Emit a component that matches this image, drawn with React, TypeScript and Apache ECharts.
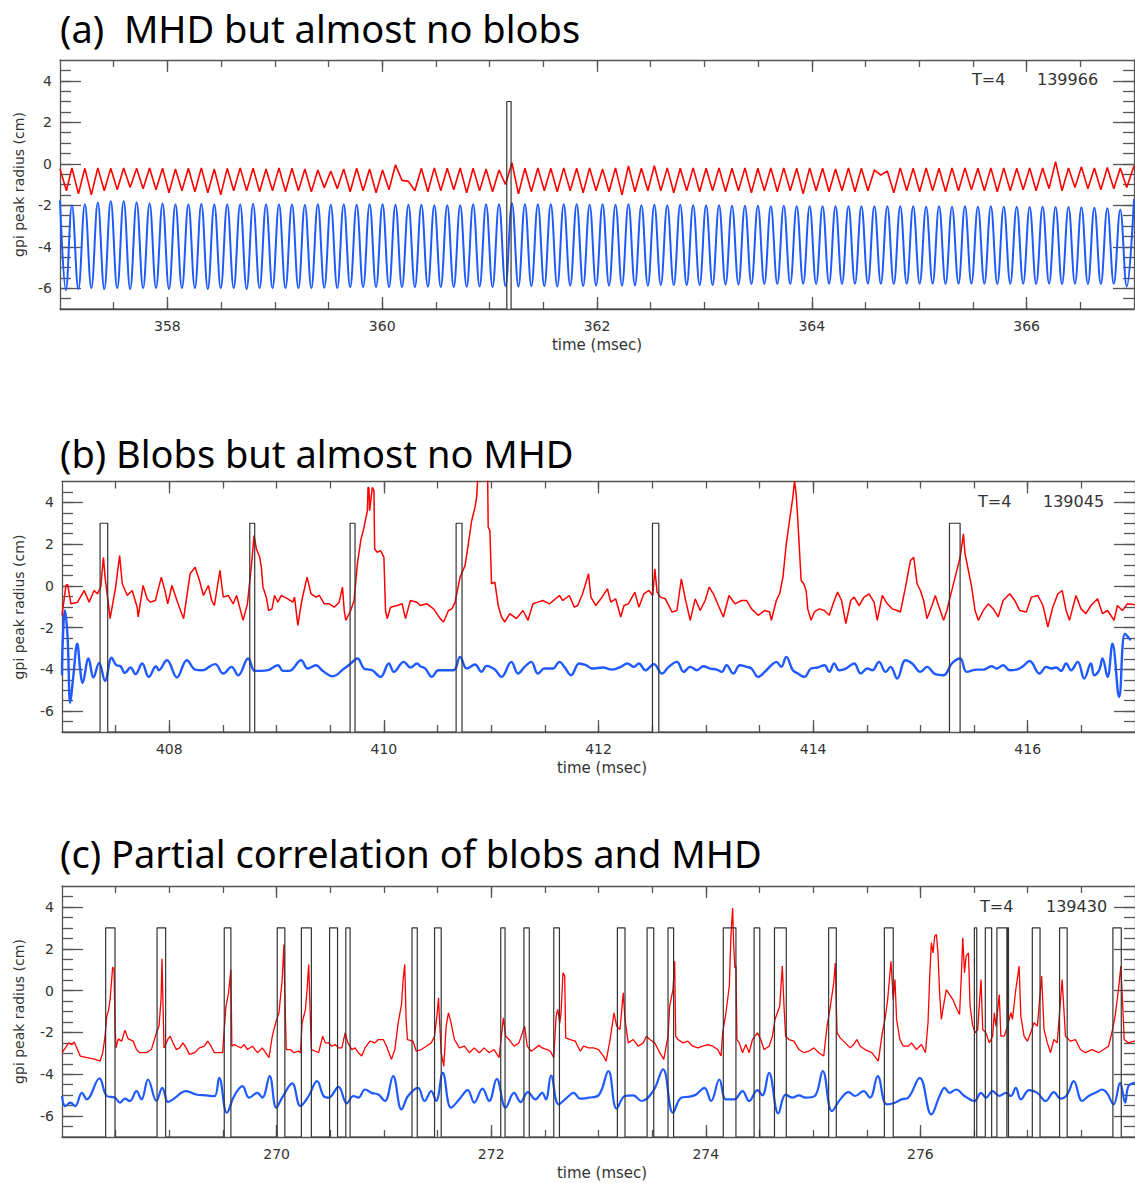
import React, { useEffect, useRef } from "react";
import * as echarts from "echarts";

type Pt = [number, number];

// ---------- shared scales ----------
const Y_RANGE: Pt = [-7, 5];
const Y_MAJOR = [-6, -4, -2, 0, 2, 4];
const BLOB_ON = 3;
const BLOB_OFF = -7;

// ---------- (a) shot 139966 : MHD mode, almost no blobs ----------
const A_RANGE: Pt = [357, 367];
const A_MAJOR = [358, 360, 362, 364, 366];
// peak / trough values sampled at every half period of the mode
const A_T0 = 357.111;
const A_DT = 0.060254;
const aBlueLead: Pt[] = [[357.0, -1.76], [357.055, -6.1]];
const aBlue = [
  -2.0, -6.05, -1.95, -6.0, -1.87, -6.05, -1.8, -6.0, -1.8, -6.05,
  -1.85, -6.0, -1.9, -6.0, -1.92, -6.05, -1.95, -6.0, -1.95, -6.0,
  -1.93, -6.05, -1.95, -6.0, -1.95, -6.0, -1.95, -6.05, -1.93, -6.0,
  -1.95, -6.0, -1.95, -6.0, -1.95, -6.0, -1.97, -6.0, -1.95, -5.98,
  -1.97, -6.0, -1.95, -5.95, -1.97, -5.95, -1.95, -5.95, -1.95, -5.95,
  -1.97, -5.95, -1.97, -5.95, -1.97, -5.93, -2.0, -5.95, -2.0, -5.95,
  -2.0, -5.93, -1.95, -5.92, -1.95, -5.95, -1.95, -5.9, -1.9, -5.92,
  -1.95, -5.9, -1.95, -5.9, -1.95, -5.92, -1.95, -5.88, -1.95, -5.9,
  -1.97, -5.88, -1.95, -5.88, -1.97, -5.88, -1.95, -5.86, -2.0, -5.88,
  -1.97, -5.85, -2.0, -5.85, -1.98, -5.85, -2.0, -5.85, -2.0, -5.85,
  -2.0, -5.82, -2.02, -5.82, -2.02, -5.8, -2.03, -5.8, -2.05, -5.8,
  -2.03, -5.8, -2.05, -5.78, -2.05, -5.8, -2.05, -5.78, -2.05, -5.8,
  -2.05, -5.78, -2.05, -5.78, -2.05, -5.78, -2.05, -5.8, -2.05, -5.78,
  -2.05, -5.78, -2.07, -5.78, -2.05, -5.8, -2.07, -5.78, -2.05, -5.78,
  -2.07, -5.78, -2.05, -5.8, -2.07, -5.78, -2.07, -5.78, -2.08, -5.8,
  -2.07, -5.78, -2.08, -5.8, -2.08, -5.78, -2.1, -5.8, -2.12, -5.8,
  -2.15, -5.78, -2.22, -5.92,
];
const aBlueTrail: Pt[] = [[367.0, -1.7]];
const aRedLead: Pt[] = [[357.0, -0.25], [357.06, -1.3]];
const aRed = [
  -0.2, -1.45, -0.22, -1.5, -0.2, -1.3, -0.22, -1.25, -0.2, -1.15,
  -0.22, -1.2, -0.2, -1.25, -0.22, -1.4, -0.25, -1.3, -0.22, -1.35,
  -0.2, -1.4, -0.25, -1.5, -0.22, -1.3, -0.2, -1.3, -0.22, -1.35,
  -0.25, -1.3, -0.2, -1.35, -0.22, -1.3, -0.25, -1.35, -0.3, -1.15,
  -0.35, -1.2, -0.25, -1.35, -0.22, -1.3, -0.25, -1.4, -0.3, -1.25,
  -0.05, -0.8, -0.85, -1.3, -0.22, -1.35, -0.2, -1.3, -0.22, -1.25,
  -0.2, -1.4, -0.22, -1.3, -0.25, -1.35, -0.3, -1.0, 0.05, -1.45,
  -0.22, -1.35, -0.2, -1.3, -0.22, -1.35, -0.2, -1.3, -0.22, -1.4,
  -0.2, -1.3, -0.25, -1.35, -0.2, -1.5, -0.1, -1.35, -0.22, -1.3,
  -0.1, -1.3, -0.2, -1.4, -0.22, -1.3, -0.2, -1.35, -0.22, -1.3,
  -0.2, -1.35, -0.22, -1.3, -0.2, -1.4, -0.22, -1.3, -0.2, -1.35,
  -0.2, -1.3, -0.22, -1.45, -0.2, -1.3, -0.22, -1.35, -0.25, -1.3,
  -0.2, -1.35, -0.22, -1.3, -0.3, -0.55, -0.35, -1.4, -0.2, -1.3,
  -0.22, -1.35, -0.2, -1.3, -0.22, -1.35, -0.2, -1.3, -0.2, -1.25,
  -0.22, -1.3, -0.2, -1.35, -0.2, -1.3, -0.22, -1.25, -0.2, -1.3,
  -0.2, -1.2, 0.1, -1.3, -0.2, -1.15, -0.15, -1.2, -0.2, -1.25,
  -0.18, -1.2, -0.2, -1.15,
];
const aRedTrail: Pt[] = [[367.0, -0.1]];
const aBlobStart = [361.16];
const aBlobEnd = [361.2];

// ---------- (b) shot 139045 : blobs, almost no MHD ----------
const B_RANGE: Pt = [407, 417];
const B_MAJOR = [408, 410, 412, 414, 416];
const bRed: Pt[] = [
  [407.0, -1.41], [407.037, 0.02], [407.052, 0.07], [407.083, -0.86], [407.145, -0.78], [407.207, -0.22],
  [407.253, -0.78], [407.299, -0.22], [407.33, -0.38], [407.361, -0.06], [407.386, 1.37], [407.401, 0.42],
  [407.438, -1.1], [407.448, -1.57], [407.5, -0.06], [407.537, 1.45], [407.562, 0.1], [407.608, -0.46],
  [407.654, -0.22], [407.701, -1.02], [407.71, -1.49], [407.756, 0.02], [407.793, -0.62], [407.824, -0.78],
  [407.87, -0.7], [407.926, 0.42], [407.963, -0.3], [407.985, -0.86], [408.025, 0.02], [408.071, -0.7],
  [408.133, -1.57], [408.194, 0.58], [408.241, 0.89], [408.281, 0.26], [408.318, -0.46], [408.364, 0.02],
  [408.395, -0.7], [408.42, -0.94], [408.472, 0.74], [408.503, -0.54], [408.549, -0.46], [408.596, -0.86],
  [408.627, -0.46], [408.688, -1.65], [408.728, -0.86], [408.765, 0.97], [408.79, 2.41], [408.812, 1.77],
  [408.843, 1.37], [408.858, 0.89], [408.873, -0.06], [408.904, -0.54], [408.926, -1.18], [408.957, -1.1],
  [408.981, -0.46], [409.012, -0.78], [409.043, -0.46], [409.074, -0.54], [409.105, -0.62], [409.151, -0.78],
  [409.167, -0.54], [409.198, -1.89], [409.235, -0.7], [409.284, 0.42], [409.321, -0.38], [409.367, -0.54],
  [409.398, -0.46], [409.444, -0.86], [409.491, -0.86], [409.537, -1.02], [409.583, -0.78], [409.614, -0.06],
  [409.63, -1.18], [409.645, -1.65], [409.691, -1.18], [409.722, -0.7], [409.753, 1.05], [409.784, 2.17],
  [409.815, 2.81], [409.846, 3.6], [409.852, 4.72], [409.861, 4.68], [409.867, 3.6], [409.892, 4.72],
  [409.907, 4.56], [409.914, 1.77], [409.938, 1.61], [409.969, 1.69], [410.0, 1.37], [410.015, -1.18],
  [410.031, -1.57], [410.062, -1.02], [410.123, -0.94], [410.17, -0.86], [410.201, -1.57], [410.247, -0.7],
  [410.309, -0.78], [410.339, -0.94], [410.401, -0.86], [410.463, -1.1], [410.525, -1.57], [410.556, -1.73],
  [410.602, -1.18], [410.633, -1.1], [410.664, -0.78], [410.71, 0.42], [410.756, 0.97], [410.787, 2.01],
  [410.818, 3.12], [410.849, 3.76], [410.864, 4.24], [410.88, 5.6], [410.966, 5.6], [410.972, 2.81],
  [410.988, 2.65], [411.003, 0.1], [411.034, 0.18], [411.065, -0.94], [411.096, -1.49], [411.127, -1.73],
  [411.173, -1.33], [411.235, -1.57], [411.296, -1.18], [411.343, -1.65], [411.389, -0.86], [411.435, -0.78],
  [411.481, -0.7], [411.543, -0.86], [411.636, -0.46], [411.667, -0.7], [411.728, -0.46], [411.775, -1.02],
  [411.806, -0.94], [411.852, -0.38], [411.907, 0.58], [411.929, -0.54], [411.975, -0.94], [412.022, -0.62],
  [412.083, -0.14], [412.114, -0.78], [412.16, -0.62], [412.207, -1.49], [412.238, -0.94], [412.278, -0.86],
  [412.339, -0.3], [412.376, -1.02], [412.423, -0.38], [412.469, -0.22], [412.506, -0.46], [412.525, 0.82],
  [412.546, -0.3], [412.577, -0.54], [412.623, -0.62], [412.685, -1.25], [412.731, -1.18], [412.772, 0.34],
  [412.809, -0.62], [412.855, -1.65], [412.901, -0.62], [412.948, -1.18], [412.994, -0.7], [413.031, -0.06],
  [413.071, -0.38], [413.117, -0.94], [413.164, -1.49], [413.216, -0.46], [413.272, -0.86], [413.333, -0.7],
  [413.38, -0.7], [413.426, -1.1], [413.488, -1.41], [413.549, -1.18], [413.595, -1.25], [413.611, -1.65],
  [413.657, -0.7], [413.688, -0.38], [413.719, 0.42], [413.75, 2.01], [413.78, 3.12], [413.811, 4.24],
  [413.827, 5.03], [413.842, 4.4], [413.858, 3.12], [413.873, 1.69], [413.889, 0.26], [413.913, 0.1],
  [413.935, -0.22], [413.95, -1.1], [413.981, -1.65], [414.012, -1.25], [414.058, -1.1], [414.105, -1.18],
  [414.151, -1.41], [414.197, -0.7], [414.228, -0.3], [414.265, -0.7], [414.305, -1.81], [414.351, -0.7],
  [414.382, -0.54], [414.429, -0.94], [414.475, -0.54], [414.521, -0.38], [414.568, -0.78], [414.598, -1.65],
  [414.645, -0.46], [414.691, -0.86], [414.737, -1.1], [414.784, -1.18], [414.814, -1.25], [414.861, -0.06],
  [414.907, 1.21], [414.938, 1.37], [414.969, 0.1], [415.0, -0.22], [415.03, -0.7], [415.061, -1.57],
  [415.108, -0.94], [415.139, -0.46], [415.169, -0.94], [415.216, -1.65], [415.247, -1.18], [415.277, -0.54],
  [415.324, 0.42], [415.37, 1.37], [415.401, 2.49], [415.416, 1.53], [415.447, 0.74], [415.478, -0.06],
  [415.509, -1.18], [415.54, -1.65], [415.586, -1.18], [415.632, -0.86], [415.679, -1.1], [415.725, -1.49],
  [415.771, -0.7], [415.833, -0.38], [415.879, -0.7], [415.926, -1.18], [415.987, -1.25], [416.034, -0.54],
  [416.095, -0.46], [416.142, -0.94], [416.188, -1.97], [416.234, -1.02], [416.281, -0.38], [416.321, -0.22],
  [416.358, -1.18], [416.389, -1.65], [416.45, -0.46], [416.497, -1.1], [416.543, -1.33], [416.589, -0.94],
  [416.651, -0.62], [416.697, -1.33], [416.744, -1.18], [416.805, -1.65], [416.836, -0.94], [416.882, -1.18],
  [416.929, -0.86], [417.0, -0.9],
];
const bBlue: Pt[] = [
  [407.0, -4.28], [407.006, -2.77], [407.028, -1.18], [407.052, -2.45], [407.077, -5.6], [407.105, -4.36],
  [407.142, -2.77], [407.17, -4.04], [407.191, -4.65], [407.247, -3.48], [407.293, -4.39], [407.346, -3.69],
  [407.401, -4.55], [407.463, -3.44], [407.506, -3.8], [407.546, -3.85], [407.586, -4.17], [407.639, -3.91],
  [407.685, -4.23], [407.747, -3.72], [407.809, -4.36], [407.877, -3.85], [407.901, -4.04], [407.978, -3.56],
  [408.071, -4.39], [408.164, -3.56], [408.241, -4.01], [408.302, -4.04], [408.333, -4.01], [408.426, -3.75],
  [408.503, -4.2], [408.58, -3.88], [408.642, -4.28], [408.735, -3.48], [408.796, -4.07], [408.858, -4.07],
  [408.92, -4.04], [409.012, -3.8], [409.059, -4.07], [409.12, -4.07], [409.228, -3.56], [409.29, -3.96],
  [409.367, -3.8], [409.429, -4.07], [409.522, -4.33], [409.63, -3.96], [409.691, -3.72], [409.753, -3.48],
  [409.815, -3.96], [409.861, -4.01], [409.892, -4.04], [409.969, -4.36], [410.046, -3.72], [410.093, -4.12],
  [410.185, -3.64], [410.247, -3.91], [410.309, -3.72], [410.339, -3.85], [410.386, -3.96], [410.447, -4.36],
  [410.509, -4.04], [410.648, -4.04], [410.71, -3.4], [410.772, -3.96], [410.849, -3.77], [410.91, -4.12],
  [410.957, -3.83], [411.034, -4.01], [411.096, -4.36], [411.188, -3.64], [411.25, -4.2], [411.312, -3.88],
  [411.373, -3.64], [411.435, -4.2], [411.497, -3.96], [411.574, -3.96], [411.636, -3.64], [411.682, -3.88],
  [411.744, -4.28], [411.821, -3.72], [411.883, -3.8], [411.944, -3.96], [412.037, -3.91], [412.13, -4.01],
  [412.207, -3.88], [412.269, -3.72], [412.33, -3.88], [412.376, -3.72], [412.438, -4.04], [412.515, -3.75],
  [412.593, -4.2], [412.654, -3.88], [412.731, -3.64], [412.793, -4.12], [412.855, -3.88], [412.917, -4.04],
  [412.978, -3.85], [413.04, -3.96], [413.102, -4.01], [413.148, -4.12], [413.194, -3.8], [413.256, -4.2],
  [413.318, -3.8], [413.38, -3.88], [413.426, -3.96], [413.488, -4.36], [413.549, -4.12], [413.611, -3.8],
  [413.657, -3.64], [413.703, -3.88], [413.75, -3.4], [413.811, -4.04], [413.858, -4.2], [413.919, -4.36],
  [413.981, -3.96], [414.043, -3.91], [414.105, -3.8], [414.151, -4.12], [414.197, -3.72], [414.243, -4.04],
  [414.305, -3.96], [414.382, -3.72], [414.444, -4.2], [414.506, -3.96], [414.552, -4.04], [414.614, -3.64],
  [414.676, -4.12], [414.722, -3.88], [414.784, -4.44], [414.861, -3.56], [414.923, -3.72], [415.0, -4.12],
  [415.061, -3.88], [415.139, -4.23], [415.216, -4.28], [415.293, -3.72], [415.37, -3.48], [415.432, -4.12],
  [415.525, -4.01], [415.586, -4.01], [415.663, -3.85], [415.71, -3.96], [415.771, -3.8], [415.833, -4.04],
  [415.895, -4.01], [415.956, -3.85], [416.018, -3.6], [416.111, -4.2], [416.173, -3.88], [416.219, -3.96],
  [416.265, -3.91], [416.311, -4.07], [416.358, -3.72], [416.404, -4.04], [416.466, -3.64], [416.527, -4.44],
  [416.589, -3.72], [416.62, -4.28], [416.666, -4.04], [416.697, -3.48], [416.744, -4.36], [416.79, -2.77],
  [416.852, -5.32], [416.907, -2.29], [416.96, -2.6],
];
const bBlobStart = [407.355, 408.75, 409.685, 410.673, 412.503, 415.271];
const bBlobEnd = [407.426, 408.796, 409.731, 410.728, 412.562, 415.37];

// ---------- (c) shot 139430 : partial correlation ----------
const C_RANGE: Pt = [268, 278];
const C_MAJOR = [270, 272, 274, 276];
const cRed: Pt[] = [
  [268.0, -2.97], [268.031, -2.74], [268.062, -2.5], [268.093, -2.58], [268.114, -2.46], [268.17, -3.13],
  [268.231, -3.21], [268.293, -3.26], [268.355, -3.37], [268.38, -2.97], [268.401, -2.18], [268.417, -1.22],
  [268.432, -0.98], [268.448, -0.43], [268.463, 0.53], [268.472, 1.13], [268.485, 1.01], [268.494, -1.54],
  [268.503, -2.74], [268.525, -2.31], [268.556, -2.42], [268.586, -1.89], [268.617, -2.31], [268.664, -2.42],
  [268.694, -2.82], [268.725, -2.97], [268.787, -2.97], [268.833, -2.82], [268.88, -2.02], [268.904, -1.7],
  [268.923, -0.43], [268.932, 1.52], [268.941, -0.59], [268.951, -2.74], [268.988, -2.31], [269.009, -2.18],
  [269.034, -2.5], [269.065, -2.82], [269.096, -2.74], [269.127, -2.5], [269.157, -2.74], [269.188, -3.05],
  [269.235, -2.97], [269.281, -2.74], [269.327, -2.66], [269.358, -2.42], [269.389, -2.66], [269.42, -2.97],
  [269.466, -2.97], [269.497, -2.97], [269.512, -1.86], [269.528, -0.75], [269.552, -0.11], [269.574, 1.01],
  [269.583, -2.66], [269.605, -2.58], [269.636, -2.66], [269.667, -2.74], [269.698, -2.58], [269.728, -2.82],
  [269.775, -2.66], [269.821, -2.97], [269.867, -2.74], [269.929, -3.21], [269.96, -2.18], [269.991, -1.54],
  [270.022, -1.06], [270.037, -0.27], [270.052, 0.53], [270.068, 2.2], [270.077, -0.27], [270.09, -2.82],
  [270.13, -2.82], [270.16, -2.97], [270.207, -2.9], [270.222, -2.97], [270.238, -1.54], [270.269, -0.9],
  [270.284, 0.05], [270.299, 1.25], [270.315, -1.38], [270.324, -2.82], [270.361, -2.9], [270.392, -2.97],
  [270.429, -2.18], [270.454, -2.5], [270.485, -2.5], [270.515, -2.66], [270.546, -2.58], [270.577, -2.74],
  [270.608, -2.74], [270.639, -2.02], [270.664, -2.5], [270.701, -2.82], [270.731, -2.74], [270.762, -2.97],
  [270.793, -3.13], [270.824, -2.74], [270.87, -2.42], [270.917, -2.5], [270.948, -2.34], [270.994, -2.34],
  [271.025, -2.66], [271.071, -3.29], [271.102, -2.82], [271.133, -1.54], [271.164, -0.67], [271.179, 0.53],
  [271.194, 1.25], [271.207, -1.38], [271.219, -2.34], [271.271, -2.42], [271.302, -2.9], [271.348, -2.82],
  [271.395, -2.66], [271.441, -2.5], [271.472, -2.18], [271.497, -1.06], [271.509, -0.35], [271.518, -1.38],
  [271.534, -2.97], [271.558, -3.61], [271.58, -1.7], [271.602, -1.06], [271.626, -1.54], [271.657, -2.34],
  [271.703, -2.74], [271.75, -2.66], [271.796, -2.97], [271.842, -2.74], [271.889, -2.97], [271.935, -2.74],
  [271.981, -2.97], [272.027, -2.82], [272.074, -3.21], [272.098, -2.02], [272.114, -1.3], [272.135, -2.18],
  [272.166, -2.34], [272.213, -2.66], [272.259, -2.5], [272.29, -2.02], [272.311, -1.7], [272.336, -2.66],
  [272.373, -2.9], [272.413, -2.74], [272.444, -2.62], [272.475, -2.74], [272.521, -2.82], [272.552, -2.9],
  [272.583, -3.21], [272.605, -1.22], [272.62, -0.9], [272.639, -1.54], [272.651, -1.06], [272.669, 0.85],
  [272.685, 0.69], [272.694, -2.26], [272.737, -2.34], [272.784, -2.42], [272.83, -2.9], [272.861, -2.66],
  [272.907, -2.74], [272.953, -2.74], [273.0, -2.82], [273.046, -3.13], [273.071, -3.37], [273.108, -2.34],
  [273.145, -1.06], [273.169, -1.7], [273.2, -1.86], [273.231, -0.11], [273.247, -1.38], [273.277, -2.5],
  [273.324, -2.34], [273.37, -2.66], [273.416, -2.5], [273.447, -2.18], [273.478, -2.34], [273.524, -2.5],
  [273.571, -2.97], [273.608, -3.29], [273.648, -2.18], [273.663, -0.75], [273.694, 0.05], [273.71, 1.4],
  [273.719, -2.18], [273.741, -2.34], [273.787, -2.5], [273.833, -2.42], [273.879, -2.66], [273.926, -2.74],
  [273.972, -2.66], [274.018, -2.58], [274.065, -2.66], [274.111, -2.82], [274.142, -3.13], [274.157, -2.02],
  [274.188, -1.06], [274.219, 0.21], [274.234, 2.6], [274.25, 3.95], [274.259, 2.28], [274.271, 1.09],
  [274.281, 1.17], [274.29, -2.34], [274.312, -2.5], [274.342, -2.97], [274.373, -2.58], [274.404, -2.97],
  [274.435, -2.34], [274.481, -2.02], [274.512, -2.34], [274.543, -2.82], [274.59, -2.66], [274.621, -2.18],
  [274.645, -1.38], [274.667, -1.06], [274.689, -0.75], [274.713, 1.17], [274.729, -0.75], [274.744, -2.18],
  [274.775, -2.34], [274.821, -2.42], [274.868, -2.82], [274.914, -2.97], [274.96, -2.9], [275.007, -2.74],
  [275.053, -2.97], [275.099, -3.13], [275.13, -1.7], [275.161, -0.75], [275.192, 0.37], [275.207, 1.32],
  [275.223, -2.02], [275.253, -2.26], [275.3, -2.5], [275.346, -2.74], [275.377, -2.58], [275.408, -2.34],
  [275.439, -2.66], [275.485, -2.82], [275.547, -2.97], [275.608, -3.37], [275.645, -2.02], [275.67, -1.38],
  [275.695, -0.43], [275.726, 1.4], [275.747, -0.43], [275.763, 0.53], [275.778, -1.38], [275.809, -2.34],
  [275.84, -2.66], [275.886, -2.66], [275.917, -2.5], [275.963, -2.82], [276.01, -2.58], [276.047, -2.97],
  [276.071, -1.54], [276.087, 0.69], [276.102, 2.28], [276.118, 1.8], [276.133, 2.6], [276.149, 2.68],
  [276.164, 1.8], [276.179, -0.11], [276.195, -1.38], [276.21, -0.9], [276.241, 0.05], [276.272, -0.19],
  [276.303, -0.43], [276.334, -0.82], [276.365, -1.14], [276.38, 0.53], [276.395, 2.52], [276.411, 0.85],
  [276.426, 1.64], [276.448, 1.8], [276.463, -0.75], [276.488, -1.7], [276.51, -2.02], [276.534, -1.86],
  [276.565, 0.53], [276.581, -1.86], [276.611, -2.02], [276.642, -2.5], [276.673, -2.18], [276.689, -1.06],
  [276.704, -1.7], [276.735, -0.19], [276.75, -2.18], [276.781, -2.18], [276.812, -1.7], [276.843, -1.06],
  [276.858, -1.38], [276.889, 0.05], [276.92, 1.17], [276.936, -1.22], [276.966, -2.18], [276.997, -2.42],
  [277.028, -2.02], [277.059, -1.54], [277.09, -1.7], [277.13, 0.69], [277.152, -1.86], [277.183, -2.5],
  [277.213, -2.97], [277.244, -2.34], [277.275, -2.5], [277.321, 0.53], [277.352, -2.18], [277.399, -2.42],
  [277.445, -2.34], [277.491, -2.82], [277.537, -2.97], [277.599, -2.82], [277.661, -2.97], [277.707, -2.82],
  [277.753, -2.66], [277.784, -2.02], [277.815, -1.22], [277.846, 0.05], [277.868, 1.17], [277.886, -0.75],
  [277.899, -2.34], [277.939, -2.5], [278.0, -2.4],
];
const cBlue: Pt[] = [
  [268.0, -5.04], [268.031, -5.52], [268.077, -5.36], [268.123, -5.52], [268.185, -4.89], [268.231, -5.2],
  [268.349, -4.2], [268.417, -5.04], [268.494, -5.12], [268.54, -5.36], [268.586, -5.17], [268.633, -5.28],
  [268.694, -4.81], [268.741, -5.2], [268.802, -4.25], [268.88, -5.28], [268.935, -4.65], [268.988, -5.33],
  [269.034, -5.2], [269.157, -4.81], [269.25, -4.97], [269.343, -5.01], [269.42, -5.05], [269.465, -4.17],
  [269.537, -5.84], [269.605, -5.04], [269.682, -4.57], [269.744, -5.12], [269.821, -4.89], [269.867, -5.12],
  [269.935, -4.09], [269.997, -5.6], [270.052, -5.12], [270.145, -4.44], [270.222, -5.52], [270.299, -5.04],
  [270.377, -4.33], [270.438, -5.04], [270.485, -5.12], [270.577, -4.6], [270.654, -5.39], [270.716, -5.04],
  [270.762, -5.12], [270.824, -4.73], [270.886, -4.89], [270.948, -4.97], [271.009, -5.28], [271.086, -4.09],
  [271.164, -5.68], [271.225, -5.04], [271.318, -4.65], [271.379, -5.28], [271.441, -4.81], [271.487, -5.28],
  [271.549, -3.93], [271.626, -5.6], [271.703, -5.2], [271.781, -4.76], [271.842, -5.36], [271.919, -4.69],
  [271.981, -5.28], [272.052, -4.22], [272.135, -5.6], [272.213, -4.89], [272.274, -5.33], [272.342, -4.85],
  [272.413, -5.2], [272.475, -4.89], [272.51, -5.2], [272.558, -4.06], [272.629, -5.44], [272.706, -5.12],
  [272.768, -4.89], [272.83, -5.17], [272.907, -5.12], [273.0, -5.01], [273.092, -3.85], [273.169, -5.65],
  [273.247, -5.04], [273.324, -5.01], [273.401, -5.28], [273.509, -4.81], [273.602, -3.77], [273.694, -5.84],
  [273.771, -5.12], [273.849, -5.07], [273.91, -4.97], [273.987, -4.65], [274.049, -5.28], [274.126, -4.25],
  [274.188, -5.2], [274.265, -5.2], [274.342, -4.81], [274.404, -5.28], [274.481, -4.76], [274.527, -5.01],
  [274.589, -3.93], [274.676, -5.87], [274.744, -4.97], [274.806, -5.12], [274.868, -5.01], [274.929, -5.12],
  [275.016, -5.04], [275.09, -3.85], [275.176, -5.76], [275.253, -5.2], [275.331, -4.85], [275.392, -5.04],
  [275.469, -4.81], [275.531, -5.12], [275.602, -4.09], [275.686, -5.44], [275.763, -5.36], [275.824, -5.2],
  [275.886, -5.12], [275.994, -4.17], [276.102, -5.92], [276.179, -5.04], [276.226, -4.65], [276.272, -4.89],
  [276.334, -4.73], [276.411, -5.04], [276.503, -5.28], [276.565, -4.89], [276.611, -5.12], [276.673, -4.81],
  [276.735, -5.04], [276.797, -4.89], [276.843, -5.04], [276.889, -4.65], [276.936, -5.2], [277.013, -4.76],
  [277.09, -4.89], [277.167, -5.28], [277.244, -4.85], [277.306, -5.17], [277.368, -4.97], [277.429, -4.33],
  [277.507, -5.28], [277.568, -5.04], [277.645, -4.85], [277.692, -4.73], [277.738, -4.89], [277.8, -5.44],
  [277.861, -4.41], [277.908, -5.36], [277.939, -4.57], [278.0, -4.4],
];
const cBlobStart = [
  268.407, 268.886, 269.512, 270.006, 270.231, 270.494, 270.645, 271.262, 271.472, 272.089,
  272.305, 272.583, 273.176, 273.453, 273.648, 274.163, 274.45, 274.64, 275.145, 275.664,
  276.503, 276.605, 276.713, 276.812, 277.043, 277.297, 277.794,
];
const cBlobEnd = [
  268.494, 268.966, 269.574, 270.077, 270.324, 270.568, 270.685, 271.311, 271.534, 272.129,
  272.355, 272.636, 273.247, 273.515, 273.7, 274.281, 274.503, 274.75, 275.216, 275.747,
  276.525, 276.664, 276.806, 276.821, 277.115, 277.368, 277.872,
];

// ---------- helpers ----------
const sampled = (lead: Pt[], vals: number[], trail: Pt[]): Pt[] => [
  ...lead,
  ...vals.map((v, k) => [A_T0 + k * A_DT, v] as Pt),
  ...trail,
];

const blobTrace = (starts: number[], ends: number[], range: Pt): Pt[] => {
  const out: Pt[] = [[range[0], BLOB_OFF]];
  starts.forEach((s, i) => {
    out.push([s, BLOB_OFF], [s, BLOB_ON], [ends[i], BLOB_ON], [ends[i], BLOB_OFF]);
  });
  out.push([range[1], BLOB_OFF]);
  return out;
};

const halfSteps = (lo: number, hi: number): number[] => {
  const out: number[] = [];
  for (let v = lo + 0.5; v < hi - 1e-6; v += 0.5) out.push(Math.round(v * 10) / 10);
  return out;
};

const FRAME = { color: "#555", width: 1.3 };
const LABEL = { color: "#333", fontFamily: "DejaVu Sans", fontSize: 14 };

const xAxesFor = (g: number, range: Pt, majors: number[]) => {
  const minors = halfSteps(range[0], range[1]);
  const base = { type: "value", gridIndex: g, min: range[0], max: range[1], splitLine: { show: false } };
  return [
    {
      ...base, position: "bottom",
      axisLine: { show: true, onZero: false, lineStyle: FRAME },
      axisTick: { show: true, inside: true, length: 12, customValues: majors, lineStyle: FRAME },
      axisLabel: { show: true, customValues: majors, margin: 10, ...LABEL },
    },
    {
      ...base, position: "bottom",
      axisLine: { show: false, onZero: false },
      axisTick: { show: true, inside: true, length: 7, customValues: minors, lineStyle: FRAME },
      axisLabel: { show: false },
    },
    {
      ...base, position: "top",
      axisLine: { show: true, onZero: false, lineStyle: FRAME },
      axisTick: { show: true, inside: true, length: 12, customValues: majors, lineStyle: FRAME },
      axisLabel: { show: false },
    },
    {
      ...base, position: "top",
      axisLine: { show: false, onZero: false },
      axisTick: { show: true, inside: true, length: 7, customValues: minors, lineStyle: FRAME },
      axisLabel: { show: false },
    },
  ];
};

const yAxesFor = (g: number) => {
  const minors = halfSteps(Y_RANGE[0], Y_RANGE[1]);
  const base = { type: "value", gridIndex: g, min: Y_RANGE[0], max: Y_RANGE[1], splitLine: { show: false } };
  return [
    {
      ...base, position: "left",
      axisLine: { show: true, onZero: false, lineStyle: FRAME },
      axisTick: { show: true, inside: true, length: 21, customValues: Y_MAJOR, lineStyle: FRAME },
      axisLabel: { show: true, customValues: Y_MAJOR, margin: 8, ...LABEL },
    },
    {
      ...base, position: "left",
      axisLine: { show: false, onZero: false },
      axisTick: { show: true, inside: true, length: 11, customValues: minors, lineStyle: FRAME },
      axisLabel: { show: false },
    },
    {
      ...base, position: "right",
      axisLine: { show: true, onZero: false, lineStyle: FRAME },
      axisTick: { show: true, inside: true, length: 21, customValues: Y_MAJOR, lineStyle: FRAME },
      axisLabel: { show: false },
    },
    {
      ...base, position: "right",
      axisLine: { show: false, onZero: false },
      axisTick: { show: true, inside: true, length: 11, customValues: minors, lineStyle: FRAME },
      axisLabel: { show: false },
    },
  ];
};

const RED = "#ff0000";
const BLUE = "#1e5aff";

const lineSeries = (g: number, data: Pt[], color: string, width: number, smooth: boolean | number, z: number) => ({
  type: "line",
  xAxisIndex: g * 4,
  yAxisIndex: g * 4,
  data,
  symbol: "none",
  showSymbol: false,
  smooth,
  clip: true,
  silent: true,
  z,
  lineStyle: { color, width },
});

const text = (x: number, y: number, str: string, size: number, family: string, extra: any = {}) => ({
  type: "text",
  x,
  y,
  silent: true,
  ...extra,
  style: {
    text: str,
    fill: extra.fill || "#333",
    fontSize: size,
    fontFamily: family,
    align: extra.align || "left",
    textAlign: extra.align || "left",
    verticalAlign: "middle",
    textVerticalAlign: "middle",
  },
});

export default function App() {
  const ref = useRef<HTMLDivElement>(null);

  useEffect(() => {
    document.body.style.margin = "0";
    if (!ref.current) return;
    const chart = echarts.init(ref.current, undefined, { renderer: "svg" });

    const grids = [
      { left: 60, top: 60, width: 1074, height: 249 },
      { left: 62, top: 481.5, width: 1080, height: 250.5 },
      { left: 62, top: 886, width: 1080, height: 251 },
    ];

    const panels = [
      {
        range: A_RANGE, majors: A_MAJOR,
        red: sampled(aRedLead, aRed, aRedTrail), blue: sampled(aBlueLead, aBlue, aBlueTrail),
        blobs: blobTrace(aBlobStart, aBlobEnd, A_RANGE), redW: 1.6, blueW: 2,
      },
      {
        range: B_RANGE, majors: B_MAJOR, red: bRed, blue: bBlue,
        blobs: blobTrace(bBlobStart, bBlobEnd, B_RANGE), redW: 1.5, blueW: 2.4,
      },
      {
        range: C_RANGE, majors: C_MAJOR, red: cRed, blue: cBlue,
        blobs: blobTrace(cBlobStart, cBlobEnd, C_RANGE), redW: 1.3, blueW: 2.2,
      },
    ];

    const xAxis: any[] = [];
    const yAxis: any[] = [];
    const series: any[] = [];
    panels.forEach((p, g) => {
      xAxis.push(...xAxesFor(g, p.range, p.majors));
      yAxis.push(...yAxesFor(g));
      series.push(lineSeries(g, p.red, RED, p.redW, false, 3));
      series.push(lineSeries(g, p.blue, BLUE, p.blueW, 0.4, 4));
      series.push(lineSeries(g, p.blobs, "#333", 1.2, false, 5));
    });

    const TITLE_FONT = "Noto Sans";
    const graphic = [
      text(60, 28, "(a)  MHD but almost no blobs", 38, TITLE_FONT, { fill: "#000" }),
      text(60, 453, "(b) Blobs but almost no MHD", 38, TITLE_FONT, { fill: "#000" }),
      text(60, 853, "(c) Partial correlation of blobs and MHD", 38, TITLE_FONT, { fill: "#000" }),
      text(972, 79, "T=4", 16, "DejaVu Sans"),
      text(1037, 79, "139966", 16, "DejaVu Sans"),
      text(978, 501, "T=4", 16, "DejaVu Sans"),
      text(1043, 501, "139045", 16, "DejaVu Sans"),
      text(980, 906, "T=4", 16, "DejaVu Sans"),
      text(1046, 906, "139430", 16, "DejaVu Sans"),
      text(19, 184.5, "gpi peak radius (cm)", 14, "DejaVu Sans", { rotation: Math.PI / 2, align: "center" }),
      text(19, 607, "gpi peak radius (cm)", 14, "DejaVu Sans", { rotation: Math.PI / 2, align: "center" }),
      text(19, 1011.5, "gpi peak radius (cm)", 14, "DejaVu Sans", { rotation: Math.PI / 2, align: "center" }),
      text(597, 345, "time (msec)", 15, "DejaVu Sans", { align: "center" }),
      text(602, 768, "time (msec)", 15, "DejaVu Sans", { align: "center" }),
      text(602, 1173, "time (msec)", 15, "DejaVu Sans", { align: "center" }),
    ];

    chart.setOption({
      animation: false,
      backgroundColor: "#fff",
      grid: grids,
      xAxis,
      yAxis,
      series,
      graphic,
    });

    return () => chart.dispose();
  }, []);

  return <div ref={ref} style={{ width: 1135, height: 1183 }} />;
}
